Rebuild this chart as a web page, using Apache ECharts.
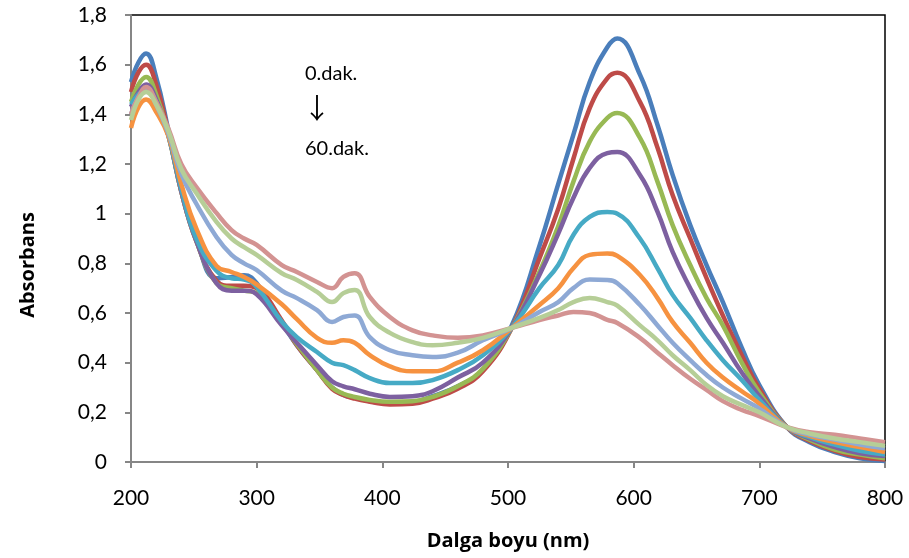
<!DOCTYPE html>
<html><head><meta charset="utf-8">
<script src="https://cdn.jsdelivr.net/npm/echarts@6/dist/echarts.min.js"></script>
<style>html,body{margin:0;padding:0;background:#fff}#c{width:909px;height:558px}</style>
</head><body><div id="c"></div>
<script>
const wavelengths = [200,206,212,220,230,240,252,268,280,290,300,320,332,348,360,369,378,390,406,424,440,460,480,503,525,540,552,565,579,587,605,619,631,645,658,671,686,700,722,740,760,780,800];
const s0  = [1.53,1.61,1.645,1.55,1.33,1.10,0.90,0.74,0.745,0.752,0.72,0.56,0.47,0.37,0.30,0.27,0.258,0.245,0.235,0.24,0.265,0.305,0.37,0.55,0.87,1.12,1.317,1.53,1.67,1.705,1.56,1.357,1.156,0.954,0.793,0.644,0.46,0.31,0.14,0.08,0.04,0.015,0.004];
const s1  = [1.49,1.57,1.60,1.52,1.32,1.09,0.89,0.73,0.71,0.71,0.70,0.57,0.47,0.37,0.295,0.27,0.255,0.243,0.232,0.235,0.255,0.295,0.365,0.54,0.82,1.02,1.22,1.425,1.545,1.567,1.45,1.265,1.075,0.90,0.74,0.59,0.43,0.295,0.14,0.085,0.045,0.02,0.01];
const s2  = [1.45,1.52,1.55,1.48,1.31,1.09,0.89,0.72,0.70,0.69,0.68,0.56,0.475,0.37,0.30,0.275,0.262,0.25,0.243,0.245,0.262,0.305,0.375,0.54,0.765,0.95,1.128,1.29,1.385,1.405,1.305,1.128,0.954,0.793,0.66,0.55,0.40,0.28,0.14,0.09,0.05,0.03,0.015];
const s3  = [1.43,1.49,1.52,1.46,1.31,1.09,0.89,0.72,0.69,0.69,0.675,0.55,0.48,0.39,0.325,0.305,0.293,0.275,0.262,0.265,0.285,0.34,0.40,0.54,0.753,0.92,1.063,1.184,1.244,1.248,1.156,1.007,0.846,0.70,0.58,0.48,0.36,0.265,0.14,0.095,0.06,0.035,0.024];
const s4  = [1.44,1.48,1.50,1.45,1.31,1.10,0.90,0.77,0.74,0.735,0.705,0.565,0.503,0.443,0.40,0.39,0.37,0.338,0.318,0.318,0.33,0.37,0.43,0.54,0.70,0.793,0.914,0.987,1.007,1.0,0.90,0.78,0.673,0.58,0.49,0.41,0.33,0.25,0.14,0.10,0.07,0.045,0.03];
const s5  = [1.345,1.43,1.46,1.41,1.31,1.12,0.94,0.79,0.765,0.745,0.715,0.635,0.575,0.50,0.48,0.49,0.48,0.43,0.385,0.365,0.365,0.40,0.45,0.54,0.632,0.70,0.78,0.834,0.84,0.83,0.753,0.66,0.564,0.48,0.40,0.34,0.285,0.235,0.14,0.105,0.08,0.06,0.04];
const s6  = [1.40,1.47,1.50,1.44,1.32,1.16,1.04,0.906,0.834,0.80,0.773,0.69,0.66,0.612,0.564,0.584,0.59,0.503,0.45,0.43,0.423,0.44,0.49,0.54,0.604,0.644,0.70,0.735,0.733,0.72,0.632,0.55,0.48,0.41,0.35,0.30,0.255,0.215,0.14,0.11,0.09,0.07,0.055];
const s7  = [1.40,1.47,1.51,1.45,1.34,1.20,1.107,1.003,0.934,0.90,0.874,0.793,0.765,0.725,0.70,0.745,0.76,0.665,0.584,0.53,0.51,0.50,0.51,0.54,0.572,0.59,0.604,0.60,0.572,0.56,0.50,0.44,0.39,0.335,0.29,0.245,0.21,0.185,0.14,0.12,0.11,0.095,0.08];
const s8  = [1.377,1.46,1.49,1.44,1.33,1.18,1.083,0.967,0.90,0.865,0.834,0.76,0.733,0.685,0.644,0.68,0.693,0.584,0.52,0.483,0.47,0.48,0.50,0.54,0.58,0.612,0.644,0.66,0.644,0.63,0.55,0.49,0.43,0.37,0.31,0.265,0.23,0.20,0.14,0.115,0.095,0.08,0.065];
const seriesData = [s0,s1,s2,s3,s4,s5,s6,s7,s8];
const colors = ['#4A7EBB','#BE4B48','#98B954','#7D60A0','#46AAC5','#F69240','#8EA9D5','#D39392','#B6CE97'];
const yTicks = [0,0.2,0.4,0.6,0.8,1,1.2,1.4,1.6,1.8];
const annotations = ['0.dak.','↓','60.dak.'];
const xTitle = 'Dalga boyu (nm)';
const yTitle = 'Absorbans';

const chart = echarts.init(document.getElementById('c'), null, {renderer:'canvas'});
const tickFont = 'Lato, sans-serif';
const font = 'Lato, "Open Sans", sans-serif';
const titleFont = 'bold 20px "Open Sans", sans-serif';
chart.setOption({
  animation:false,
  backgroundColor:'#fff',
  grid:{left:131,right:24,top:15,bottom:96,show:true,borderColor:'#000',borderWidth:1.5,backgroundColor:'transparent'},
  xAxis:{type:'value',min:200,max:800,interval:100,
    axisLine:{show:true,lineStyle:{color:'#868686',width:2}},
    axisTick:{show:true,length:6,lineStyle:{color:'#868686',width:2}},
    axisLabel:{margin:26,fontFamily:tickFont,fontSize:21,color:'#000'},
    splitLine:{show:false}},
  yAxis:{type:'value',min:0,max:1.8,interval:0.2,
    axisLine:{show:true,lineStyle:{color:'#868686',width:2}},
    axisTick:{show:true,length:6,lineStyle:{color:'#868686',width:2}},
    axisLabel:{margin:24,fontFamily:tickFont,fontSize:21,color:'#000',
      formatter:v=>{const t=yTicks.find(x=>Math.abs(x-v)<1e-6);return String(+(t!==undefined?t:v).toFixed(1)).replace('.',',');}},
    splitLine:{show:false}},
  graphic:[
    {type:'text',x:508,y:541,style:{text:xTitle,font:titleFont,fill:'#000',textAlign:'center',textVerticalAlign:'middle'}},
    {type:'text',x:28,y:265,rotation:Math.PI/2,style:{text:yTitle,font:titleFont,fill:'#000',textAlign:'center',textVerticalAlign:'middle'}},
    {type:'text',left:305,top:64,style:{text:annotations[0],font:'20px '+font,fill:'#000'}},
    {type:'text',left:303,top:94,style:{text:annotations[1],font:'28px "Noto Sans CJK SC"',fill:'#000'}},
    {type:'text',left:305,top:139,style:{text:annotations[2],font:'20px '+font,fill:'#000'}}
  ],
  series:seriesData.map((d,i)=>({
    type:'line',smooth:0.45,symbol:'none',
    data:wavelengths.map((w,j)=>[w,d[j]]),
    lineStyle:{color:colors[i],width:4.5},
    itemStyle:{color:colors[i]},z:2+i
  }))
});
</script></body></html>
